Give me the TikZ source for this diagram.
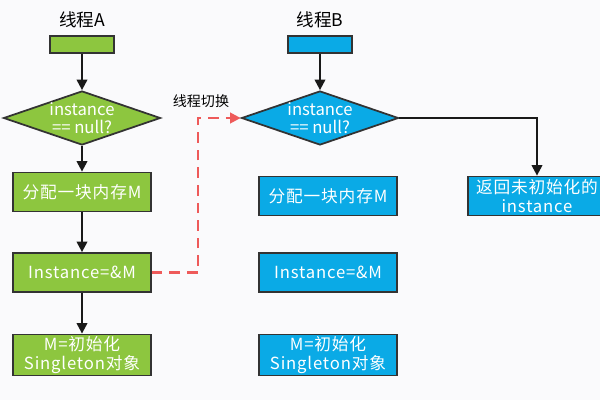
\documentclass[tikz,border=0pt]{standalone}
\usepackage{fontspec}
\newfontfamily\cjk{Noto Sans CJK SC}
\newfontfamily\cjkwide[LetterSpace=5]{Noto Sans CJK SC}
\usetikzlibrary{shapes.geometric,arrows.meta,positioning}
\definecolor{greenA}{HTML}{8DC63F}
\definecolor{blueB}{HTML}{0AAAE6}
\definecolor{paper}{HTML}{FAFAFC}
\definecolor{switchred}{HTML}{EE5A5A}

\begin{document}
\begin{tikzpicture}[x=0.02cm, y=-0.02cm,
  box/.style={rectangle, draw=black!80, line width=1pt, minimum width=2.76cm, minimum height=0.78cm, inner sep=1pt, text=white, align=center, font=\cjkwide\fontsize{9.5}{11}\selectfont},
  start/.style={rectangle, draw=black!80, line width=1pt, minimum width=1.28cm, minimum height=0.34cm},
  check/.style={diamond, draw=black!80, line width=1pt, aspect=2.9, inner sep=0pt, minimum width=3.14cm, minimum height=1.08cm, text=white, align=center, font=\cjk\fontsize{9.5}{10.5}\selectfont},
  title/.style={font=\cjk\fontsize{10}{12}\selectfont},
  flow/.style={-{Triangle[width=6pt,length=6pt]}, line width=1.2pt, draw=black!90},
  switch/.style={-{Triangle[width=6pt,length=6pt]}, line width=1.3pt, dash pattern=on 6pt off 4pt, draw=switchred}]
\fill[paper] (0,0) rectangle (600,400);
\useasboundingbox (0,0) rectangle (600,400);

% Thread A
\node[title] (ta) at (82,20) {线程A};
\node[start, fill=greenA] (sa) at (82,44.5) {};
\node[check, fill=greenA] (qa) at (82,118) {instance\\== null?};
\node[box, fill=greenA] (ma) at (82,192) {分配一块内存M};
\node[box, fill=greenA] (ia) at (82,272.5) {Instance=\&M};
\node[box, fill=greenA] (oa) at (82,355) {M=初始化\\Singleton对象};
\draw[flow] (sa) -- (qa);
\draw[flow] (qa) -- (ma);
\draw[flow] (ma) -- (ia);
\draw[flow] (ia) -- (oa);

% Thread B
\node[title] (tb) at (320,20) {线程B};
\node[start, fill=blueB] (sb) at (320,44.5) {};
\node[check, fill=blueB] (qb) at (320,118) {instance\\== null?};
\node[box, fill=blueB] (mb) at (328,196) {分配一块内存M};
\node[box, fill=blueB] (ib) at (328,272.5) {Instance=\&M};
\node[box, fill=blueB] (ob) at (328,355) {M=初始化\\Singleton对象};
\node[box, fill=blueB] (rb) at (537,196) {返回未初始化的\\instance};
\draw[flow] (sb) -- (qb);
\draw[flow] (qb) -| (rb);

% switch from A to B
\node[font=\cjk\fontsize{8}{10}\selectfont] (sw) at (201,101) {线程切换};
\draw[switch] (ia.east) -- ++(46,0) |- (qb);
\end{tikzpicture}
\end{document}
